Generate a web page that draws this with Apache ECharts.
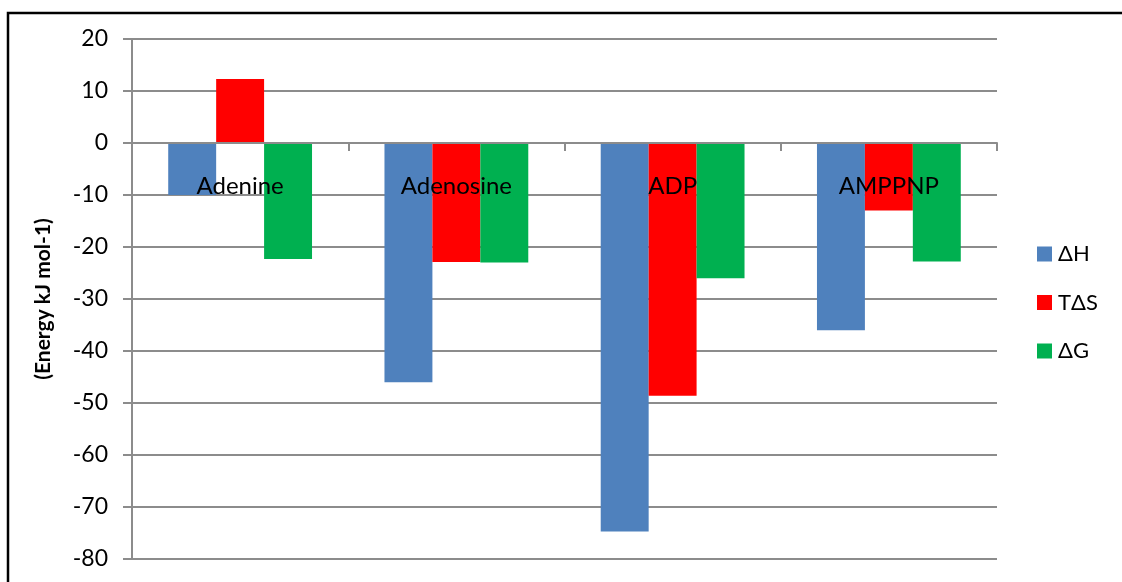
<!DOCTYPE html>
<html>
<head>
<meta charset="utf-8">
<script src="https://cdn.jsdelivr.net/npm/echarts@6/dist/echarts.min.js"></script>
<style>
  html, body { margin: 0; padding: 0; background: #fff; overflow: hidden; }
  #chart { width: 1122px; height: 582px; }
</style>
</head>
<body>
<div id="chart"></div>
<script>
// Binding energetics per ligand (kJ mol-1)
const categories = ['Adenine', 'Adenosine', 'ADP', 'AMPPNP'];
const seriesNames = ['ΔH', 'TΔS', 'ΔG'];
const dH  = [-10.0, -46.0, -74.7, -36.0];
const TdS = [12.3, -22.9, -48.6, -13.0];
const dG  = [-22.3, -23.0, -26.0, -22.8];
const yTicks = { min: -80, max: 20, interval: 10 };
const yName = '(Energy kJ mol-1)';

const colors = ['#4F81BD', '#FF0000', '#00B050'];
const font = "Lato, 'Noto Sans', 'DejaVu Sans', sans-serif";
const gridColor = '#8c8c8c';

const gridTop = 39, gridBottom = 23, chartH = 582;
const plotH = chartH - gridTop - gridBottom;
// distance from the bottom of the plot up to the zero line
const zeroOffset = plotH * (0 - yTicks.min) / (yTicks.max - yTicks.min);

const chart = echarts.init(document.getElementById('chart'));
chart.setOption({
  animation: false,
  color: colors,
  graphic: [{
    type: 'rect',
    shape: { x: 8, y: 13, width: 1300, height: 800 },
    style: { fill: null, stroke: '#000', lineWidth: 2.5 },
    silent: true
  }],
  grid: { left: 132, right: 125, top: gridTop, bottom: gridBottom, containLabel: false, outerBoundsMode: 'none' },
  legend: {
    orient: 'vertical',
    left: 1032,
    top: 238,
    itemWidth: 15,
    itemHeight: 15,
    itemGap: 26.5,
    icon: 'rect',
    textStyle: { fontFamily: font, fontSize: 22, lineHeight: 22, color: '#000', padding: [0, 0, 0, 1] },
    data: seriesNames
  },
  xAxis: {
    type: 'category',
    data: categories,
    z: 10,
    offset: -zeroOffset,
    axisLine: { onZero: false, lineStyle: { color: gridColor, width: 2 } },
    axisTick: { show: true, alignWithLabel: false, length: 8, lineStyle: { color: gridColor, width: 2 } },
    axisLabel: { margin: 31, fontFamily: font, fontSize: 24, color: '#000', interval: 0 },
    splitLine: { show: false }
  },
  yAxis: {
    type: 'value',
    min: yTicks.min,
    max: yTicks.max,
    interval: yTicks.interval,
    name: yName,
    nameLocation: 'middle',
    nameGap: 78,
    nameTextStyle: { fontFamily: font, fontSize: 21, fontWeight: 'bold', color: '#000' },
    axisLine: { show: true, lineStyle: { color: gridColor, width: 2 } },
    axisTick: { show: true, length: 9, lineStyle: { color: gridColor, width: 2 } },
    axisLabel: { margin: 24, fontFamily: font, fontSize: 23, color: '#000' },
    splitLine: { show: true, lineStyle: { color: gridColor, width: 2 } }
  },
  series: [
    { name: seriesNames[0], type: 'bar', data: dH,  barGap: '0%', barCategoryGap: '33.5%' },
    { name: seriesNames[1], type: 'bar', data: TdS, barGap: '0%', barCategoryGap: '33.5%' },
    { name: seriesNames[2], type: 'bar', data: dG,  barGap: '0%', barCategoryGap: '33.5%' }
  ]
});
</script>
</body>
</html>
